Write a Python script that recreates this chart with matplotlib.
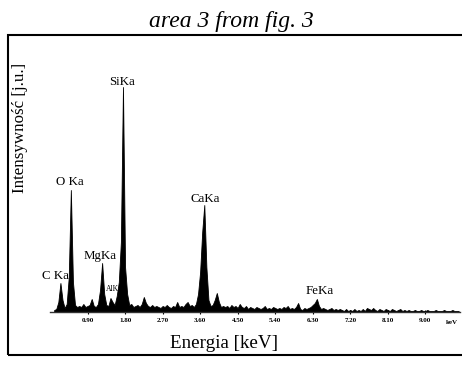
import numpy as np
import matplotlib
matplotlib.use("Agg")
import matplotlib.pyplot as plt
from matplotlib.patches import Rectangle

plt.rcParams['font.family'] = ['Liberation Serif', 'DejaVu Serif']

# EDS spectrum, channel counts every 0.05 keV starting at 0.10 keV (arbitrary units)
counts_0 = [2, 3, 10, 29, 12, 4, 8, 35, 122, 30, 7, 5, 6, 5, 8, 5, 6, 7]
counts_1 = [13, 6, 5, 8, 22, 49, 18, 7, 6, 14, 10, 7, 16, 30, 70, 225, 45, 18, 7, 8]
counts_2 = [5, 6, 7, 5, 8, 15, 9, 6, 5, 7, 5, 6, 5, 4, 6, 5, 7, 5, 4, 6]
counts_3 = [5, 10, 5, 6, 5, 8, 10, 6, 7, 5, 8, 18, 40, 80, 107, 45, 12, 6, 7, 12]
counts_4 = [19, 10, 5, 6, 5, 6, 4, 7, 5, 6, 4, 8, 5, 4, 6, 3, 5, 4, 3, 5]
counts_5 = [4, 3, 4, 6, 3, 4, 3, 5, 4, 3, 4, 3, 5, 4, 6, 3, 4, 3, 5, 9]
counts_6 = [3, 2, 4, 3, 4, 5, 7, 9, 13, 6, 3, 4, 3, 2, 3, 4, 2, 3, 2, 3]
counts_7 = [2, 1, 3, 1, 2, 1, 3, 1, 2, 1, 3, 1, 4, 3, 2, 4, 2, 1, 3, 2]
counts_8 = [1, 3, 2, 1, 3, 2, 1, 2, 3, 1, 2, 1, 2, 1, 1, 2, 1, 1, 2, 1]
counts_9 = [1, 2, 1, 1, 1, 2, 1, 1, 1, 2, 1, 1, 1, 2, 1, 1, 1]

counts = np.array(counts_0 + counts_1 + counts_2 + counts_3 + counts_4 +
                  counts_5 + counts_6 + counts_7 + counts_8 + counts_9)
energy = 0.10 + 0.05 * np.arange(len(counts))

# peak labels: (text, energy, height of label bottom)
peak_names = ['C Ka', 'O Ka', 'MgKa', 'AlKa', 'SiKa', 'CaKa', 'FeKa']
peak_x = [0.12, 0.48, 1.20, 1.55, 1.72, 3.72, 6.47]
peak_y = [30, 124, 50, 19, 224, 107, 15]
peak_size = [9.3, 9.3, 9.3, 5.5, 9.3, 9.3, 9.3]

ticks = [0.90, 1.80, 2.70, 3.60, 4.50, 5.40, 6.30, 7.20, 8.10, 9.00]

fig = plt.figure(figsize=(4.62, 3.65), dpi=100)
ax = fig.add_axes([50 / 462, 53 / 365, 410 / 462, 230 / 365])

ax.fill_between(energy, 0, counts, color='black', lw=0.6)
ax.set_xlim(0, 410 / 41.7)
ax.set_ylim(0, 230)

for s in ['top', 'right', 'left']:
    ax.spines[s].set_visible(False)
ax.spines['bottom'].set_color('#333333')
ax.spines['bottom'].set_linewidth(1.0)
ax.set_yticks([])
ax.set_xticks(ticks)
ax.set_xticklabels(['%.2f' % t for t in ticks], fontsize=5, fontweight='bold')
ax.tick_params(axis='x', direction='inout', length=3, width=0.8, pad=3)
ax.text(9.64, -10, 'keV', fontsize=5, fontweight='bold', ha='center', va='center',
        clip_on=False)

for name, x, y, fs in zip(peak_names, peak_x, peak_y, peak_size):
    ax.text(x, y, name, fontsize=fs, ha='center', va='bottom', clip_on=False)

fig.text(231 / 462, 1 - 21 / 365, 'area 3 from fig. 3', fontsize=17,
         style='italic', ha='center', va='center')
fig.text(20.5 / 462, 1 - 128 / 365, 'Intensywność [j.u.]', fontsize=12.2,
         rotation=90, ha='center', va='center')
fig.text(224 / 462, 1 - 343 / 365, 'Energia [keV]', fontsize=13.7,
         ha='center', va='center')

fig.patches.append(Rectangle((8 / 462, 10 / 365), 470 / 462, 320 / 365,
                             transform=fig.transFigure, fill=False,
                             edgecolor='black', lw=1.5))

fig.savefig('out.png', dpi=100)
